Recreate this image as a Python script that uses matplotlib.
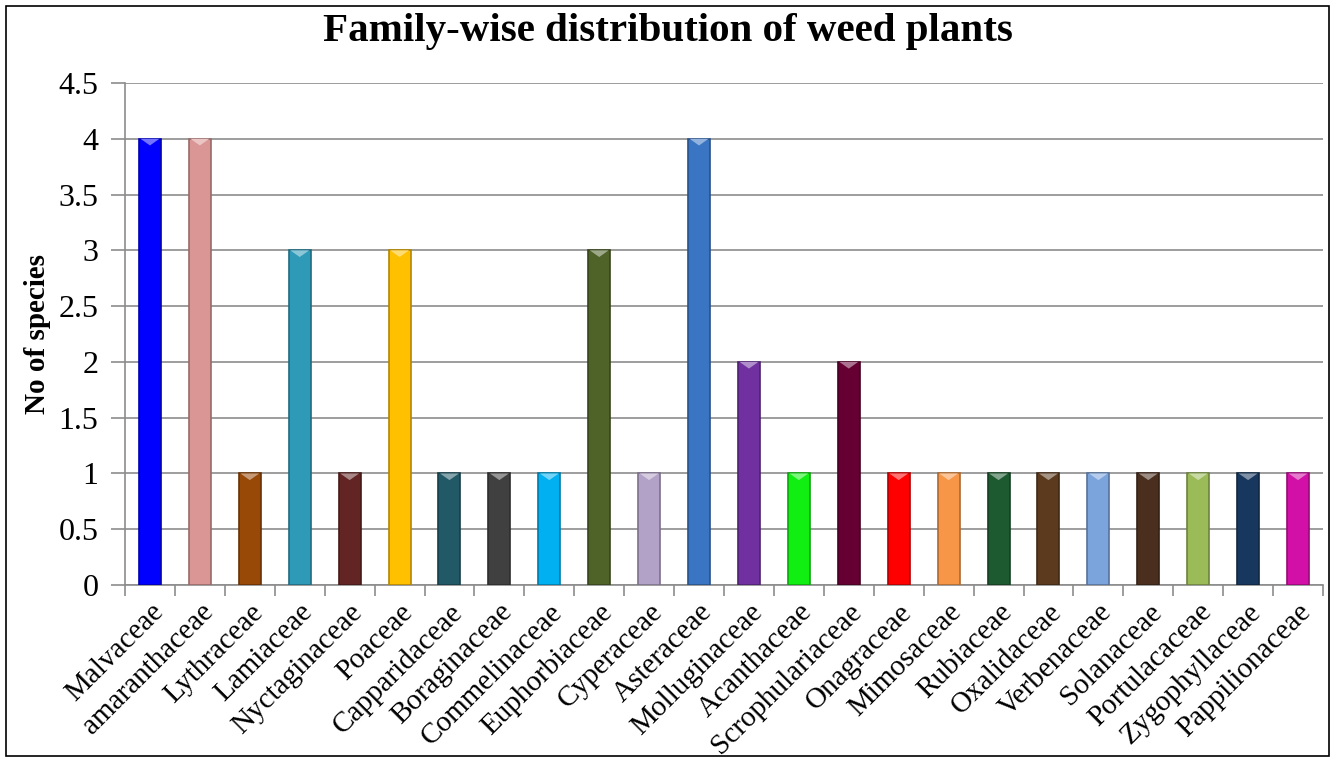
import matplotlib.pyplot as plt
import matplotlib.colors as mcolors
from matplotlib.patches import Rectangle, Polygon
import numpy as np

families = ['Malvaceae', 'amaranthaceae', 'Lythraceae', 'Lamiaceae', 'Nyctaginaceae',
            'Poaceae', 'Capparidaceae', 'Boraginaceae', 'Commelinaceae', 'Euphorbiaceae',
            'Cyperaceae', 'Asteraceae', 'Molluginaceae', 'Acanthaceae', 'Scrophulariaceae',
            'Onagraceae', 'Mimosaceae', 'Rubiaceae', 'Oxalidaceae', 'Verbenaceae',
            'Solanaceae', 'Portulacaceae', 'Zygophyllaceae', 'Pappilionaceae']
species = [4, 4, 1, 3, 1, 3, 1, 1, 1, 3, 1, 4, 2, 1, 2, 1, 1, 1, 1, 1, 1, 1, 1, 1]
colors = ['#0000FF', '#D99694', '#984807', '#2E9AB8', '#632523',
          '#FFC000', '#215967', '#404040', '#00B0F0', '#4F6228',
          '#B3A2C7', '#3A75C4', '#7030A0', '#11EE11', '#660033',
          '#FF0000', '#F79646', '#1E5A30', '#5C3A1E', '#7BA3DC',
          '#4A2E1E', '#9BBB59', '#17375E', '#D20FA6']
yticks = [0, 0.5, 1, 1.5, 2, 2.5, 3, 3.5, 4, 4.5]
ytick_labels = ['0', '0.5', '1', '1.5', '2', '2.5', '3', '3.5', '4', '4.5']

plt.rcParams['font.family'] = ['Liberation Serif', 'DejaVu Serif']

fig = plt.figure(figsize=(13.35, 7.62), dpi=100)
ax = fig.add_axes([125 / 1335, 1 - 585 / 762, 1198 / 1335, 502 / 762])

x = np.arange(len(families))
width = 0.44
edge = [tuple(c * 0.7 for c in mcolors.to_rgb(col)) for col in colors]
ax.bar(x, species, width, color=colors, edgecolor=edge, linewidth=1.2, zorder=3)

# small bevel triangle on top of each bar
for xi, v, col in zip(x, species, colors):
    light = tuple(min(1, c + (1 - c) * 0.45) for c in mcolors.to_rgb(col))
    tri = Polygon([(xi - width / 2 + 0.03, v), (xi + width / 2 - 0.03, v), (xi, v - 0.06)],
                  closed=True, facecolor=light, edgecolor='none', zorder=4)
    ax.add_patch(tri)

ax.set_xlim(-0.5, len(families) - 0.5)
ax.set_ylim(0, 4.5)
ax.set_yticks(yticks)
ax.set_yticklabels(ytick_labels, fontsize=23)
ax.yaxis.grid(True, color='#8c8c8c', linewidth=1.2, zorder=0)
ax.set_axisbelow(True)

ax.set_xticks(x)
ax.set_xticklabels(families, rotation=45, ha='right', rotation_mode='anchor', fontsize=21)
ax.tick_params(axis='x', length=0, pad=10)
ax.set_xticks(np.arange(-0.5, len(families), 1), minor=True)
ax.tick_params(axis='x', which='minor', length=8, color='#8c8c8c', width=1.2)
ax.tick_params(axis='y', length=10, color='#8c8c8c', width=1.2, pad=9)

for s in ['top', 'right']:
    ax.spines[s].set_visible(False)
for s in ['left', 'bottom']:
    ax.spines[s].set_color('#8c8c8c')
    ax.spines[s].set_linewidth(1.2)

ax.set_ylabel('No of species', fontsize=21, fontweight='bold')
ax.yaxis.set_label_coords(-74 / 1198, 0.5)
fig.text(0.5, 1 - 31 / 762, 'Family-wise distribution of weed plants',
         ha='center', va='center', fontsize=29.5, fontweight='bold')

fig.patches.append(Rectangle((6 / 1335, 6 / 762), 1323 / 1335, 750 / 762,
                             transform=fig.transFigure, fill=False,
                             edgecolor='black', linewidth=1.2))

fig.savefig('out.png', dpi=100)
